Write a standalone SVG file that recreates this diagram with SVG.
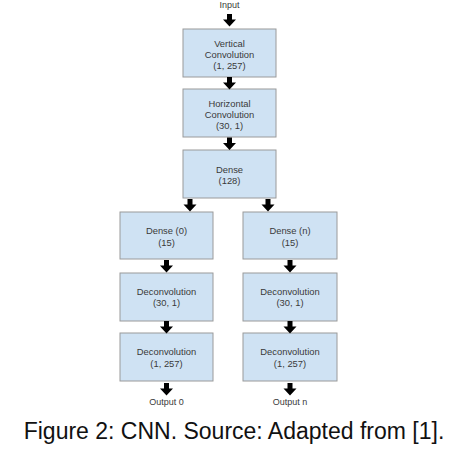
<svg xmlns="http://www.w3.org/2000/svg" width="470" height="452" viewBox="0 0 470 452">
<style>
.box{fill:#cfe2f3;stroke:#9a9a9a;stroke-width:1}
.t{font-family:"Liberation Sans",Arial,sans-serif;font-size:9.4px;fill:#3a3a3a;text-anchor:middle}
.l{font-family:"Liberation Sans",Arial,sans-serif;font-size:9px;fill:#3a3a3a;text-anchor:middle}
.arr{fill:#000}
.cap{font-family:"Liberation Sans",Arial,sans-serif;font-size:23px;fill:#111;text-anchor:middle}
</style>
<defs>
<path id="a" class="arr" d="M-2.5,0 H2.5 V5.5 H6.5 L0,12.5 L-6.5,5.5 H-2.5 Z"/>
</defs>
<rect width="470" height="452" fill="#fff"/>
<text class="l" x="229.5" y="8">Input</text>
<g id="n1"><rect class="box" x="183" y="29" width="93" height="48"/>
<text class="t" x="229.5" y="46.5">Vertical</text><text class="t" x="229.5" y="57.5">Convolution</text><text class="t" x="229.5" y="68.5">(1, 257)</text></g>
<g id="n2"><rect class="box" x="183" y="89" width="93" height="48"/>
<text class="t" x="229.5" y="106.5">Horizontal</text><text class="t" x="229.5" y="117.5">Convolution</text><text class="t" x="229.5" y="128.5">(30, 1)</text></g>
<g id="n3"><rect class="box" x="183" y="150" width="93" height="48"/>
<text class="t" x="229.5" y="172.5">Dense</text><text class="t" x="229.5" y="184">(128)</text></g>
<g id="n4"><rect class="box" x="120" y="212" width="93" height="47"/>
<text class="t" x="166.5" y="234">Dense (0)</text><text class="t" x="166.5" y="245.5">(15)</text></g>
<g id="n5"><rect class="box" x="243" y="212" width="94" height="47"/>
<text class="t" x="290" y="234">Dense (n)</text><text class="t" x="290" y="245.5">(15)</text></g>
<g id="n6"><rect class="box" x="120" y="273" width="93" height="48"/>
<text class="t" x="166.5" y="294.5">Deconvolution</text><text class="t" x="166.5" y="306">(30, 1)</text></g>
<g id="n7"><rect class="box" x="243" y="273" width="94" height="48"/>
<text class="t" x="290" y="294.5">Deconvolution</text><text class="t" x="290" y="306">(30, 1)</text></g>
<g id="n8"><rect class="box" x="120" y="333" width="93" height="48"/>
<text class="t" x="166.5" y="355">Deconvolution</text><text class="t" x="166.5" y="366.5">(1, 257)</text></g>
<g id="n9"><rect class="box" x="243" y="333" width="94" height="48"/>
<text class="t" x="290" y="355">Deconvolution</text><text class="t" x="290" y="366.5">(1, 257)</text></g>
<text class="l" x="166.5" y="405">Output 0</text>
<text class="l" x="290" y="405">Output n</text>
<g id="connectors">
<use href="#a" x="229.5" y="14"/>
<use href="#a" x="229.5" y="77"/>
<use href="#a" x="229.5" y="137.5"/>
<use href="#a" x="190" y="199"/>
<use href="#a" x="268" y="199"/>
<use href="#a" x="166.5" y="260"/>
<use href="#a" x="290" y="260"/>
<use href="#a" x="166.5" y="321"/>
<use href="#a" x="290" y="321"/>
<use href="#a" x="166.5" y="383"/>
<use href="#a" x="290" y="383"/>
</g>
<text class="cap" x="234" y="439">Figure 2: CNN. Source: Adapted from [1].</text>
</svg>
